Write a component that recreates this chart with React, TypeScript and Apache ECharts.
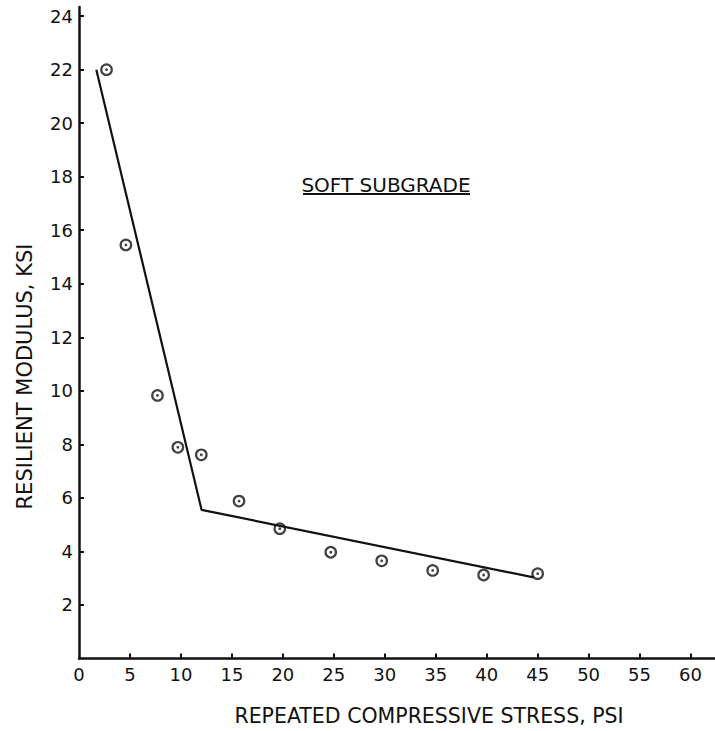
import React, { useEffect, useRef } from "react";
import * as echarts from "echarts";

// Resilient modulus vs. repeated compressive stress, soft subgrade
const stressPsi = [2.7, 4.6, 7.7, 9.7, 12.0, 15.7, 19.7, 24.7, 29.7, 34.7, 39.7, 45.0];
const modulusKsi = [22.0, 15.45, 9.83, 7.89, 7.61, 5.88, 4.85, 3.97, 3.65, 3.29, 3.12, 3.17];

// Bilinear fit: steep branch, break point, flat branch
const fitStress = [1.7, 12.03, 44.6];
const fitModulus = [22.0, 5.55, 3.03];

const xTickValues = [0, 5, 10, 15, 20, 25, 30, 35, 40, 45, 50, 55, 60];
const yTickValues = [2, 4, 6, 8, 10, 12, 14, 16, 18, 20, 22, 24];

const chartTitle = "SOFT SUBGRADE";
const xTitle = "REPEATED COMPRESSIVE STRESS, PSI";
const yTitle = "RESILIENT MODULUS, KSI";

const FONT = "DejaVu Sans";
const INK = "#111";

export default function App() {
  const ref = useRef<HTMLDivElement>(null);

  useEffect(() => {
    if (!ref.current) return;
    const chart = echarts.init(ref.current, null, { renderer: "svg" });
    const points = stressPsi.map((x, i) => [x, modulusKsi[i]]);
    const fit = fitStress.map((x, i) => [x, fitModulus[i]]);

    chart.setOption({
      animation: false,
      backgroundColor: "#ffffff",
      grid: { left: 79, right: 0, top: 7, bottom: 72.5 },
      xAxis: {
        type: "value",
        min: 0,
        max: 62.4,
        interval: 5,
        splitLine: { show: false },
        axisLine: { show: true, lineStyle: { color: INK, width: 2.5 } },
        axisTick: {
          show: true,
          inside: true,
          length: 5,
          customValues: xTickValues.filter((v) => v > 0),
          lineStyle: { color: INK, width: 2 },
        },
        axisLabel: {
          customValues: xTickValues,
          margin: 7,
          color: INK,
          fontFamily: FONT,
          fontSize: 18,
        },
      },
      yAxis: {
        type: "value",
        min: 0,
        max: 24.34,
        interval: 2,
        splitLine: { show: false },
        axisLine: { show: true, lineStyle: { color: INK, width: 2.5 } },
        axisTick: {
          show: true,
          inside: true,
          length: 5,
          customValues: yTickValues,
          lineStyle: { color: INK, width: 2 },
        },
        axisLabel: {
          customValues: yTickValues,
          margin: 6,
          color: INK,
          fontFamily: FONT,
          fontSize: 18,
        },
      },
      series: [
        {
          type: "line",
          data: fit,
          symbol: "none",
          lineStyle: { color: INK, width: 2.2 },
          z: 2,
        },
        {
          type: "scatter",
          data: points,
          symbol: "circle",
          symbolSize: 10.5,
          itemStyle: { color: "transparent", borderColor: INK, borderWidth: 2.2 },
          z: 3,
        },
        {
          type: "scatter",
          data: points,
          symbol: "circle",
          symbolSize: 2.8,
          itemStyle: { color: INK },
          z: 4,
        },
      ],
      graphic: [
        {
          type: "text",
          x: 386,
          y: 185,
          style: {
            text: chartTitle,
            fill: INK,
            font: `20px "${FONT}"`,
            textAlign: "center",
            textVerticalAlign: "middle",
          },
        },
        {
          type: "line",
          shape: { x1: 303, y1: 194, x2: 470, y2: 194 },
          style: { stroke: INK, lineWidth: 2 },
        },
        {
          type: "text",
          x: 429,
          y: 716,
          style: {
            text: xTitle,
            fill: INK,
            font: `20.5px "${FONT}"`,
            textAlign: "center",
            textVerticalAlign: "middle",
          },
        },
        {
          type: "text",
          x: 24.5,
          y: 376.5,
          rotation: Math.PI / 2,
          style: {
            text: yTitle,
            fill: INK,
            font: `21px "${FONT}"`,
            textAlign: "center",
            textVerticalAlign: "middle",
          },
        },
      ],
    });

    return () => chart.dispose();
  }, []);

  return (
    <div
      ref={ref}
      style={{ position: "fixed", left: 0, top: 0, width: 715, height: 731 }}
    />
  );
}
